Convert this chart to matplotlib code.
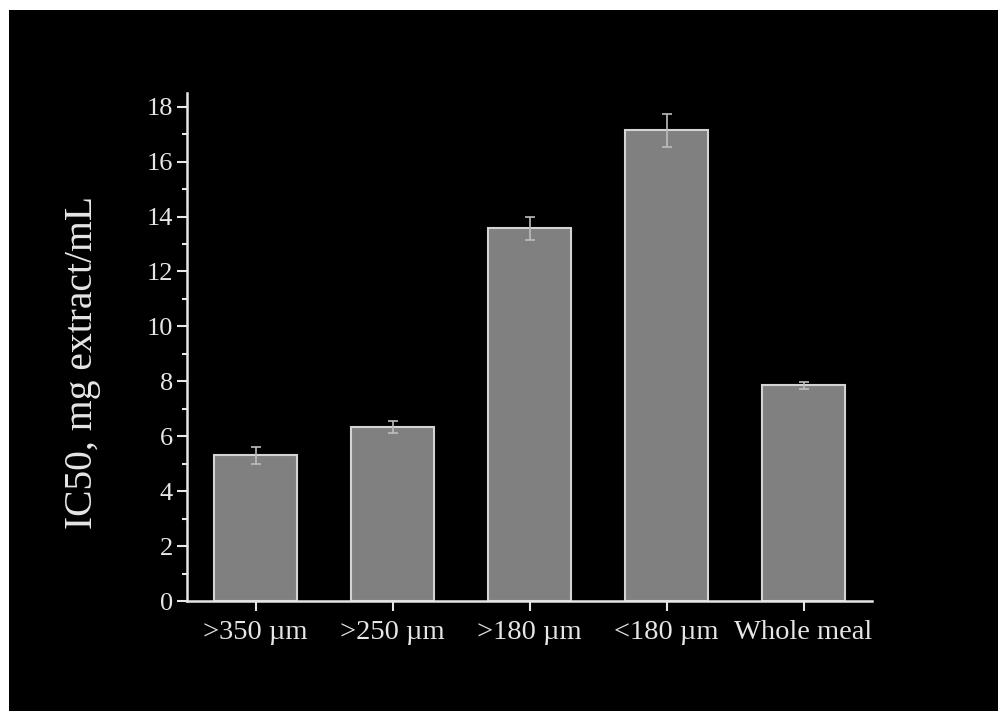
import matplotlib
matplotlib.use("Agg")
import matplotlib.pyplot as plt
from matplotlib.patches import Rectangle
from matplotlib.ticker import MultipleLocator

# particle size fractions and IC50 values
categories = [">350 \u00b5m", ">250 \u00b5m", ">180 \u00b5m", "<180 \u00b5m", "Whole meal"]
ic50 = [5.30, 6.33, 13.57, 17.15, 7.85]
ic50_err = [0.30, 0.23, 0.43, 0.60, 0.13]

plt.rcParams["font.family"] = ["Liberation Serif", "DejaVu Serif"]

fg = "#e6e6e6"

fig = plt.figure(figsize=(9.98, 7.11), dpi=100, facecolor="white")
# black panel, with a thin white strip left and top like the screenshot
fig.patches.append(Rectangle((9 / 998, 0), 1, 1 - 10 / 711, transform=fig.transFigure,
                             facecolor="black", edgecolor="none", zorder=-10))

ax = fig.add_axes([187 / 998, 1 - 601 / 711, (872 - 187) / 998, (601 - 93) / 711])
ax.set_facecolor("black")

x = list(range(len(categories)))
ax.bar(x, ic50, width=0.6, color="#808080", edgecolor="#d4d4d4", linewidth=1.5, zorder=2)
ax.errorbar(x, ic50, yerr=ic50_err, fmt="none", ecolor="#bdbdbd", elinewidth=1.2,
            capsize=3.8, capthick=1.2, zorder=3)

ax.set_xlim(-0.5, 4.5)
ax.set_ylim(0, 18.5)
ax.set_xticks(x)
ax.set_xticklabels(categories)
ax.yaxis.set_major_locator(MultipleLocator(2))
ax.yaxis.set_minor_locator(MultipleLocator(1))

for side in ["top", "right"]:
    ax.spines[side].set_visible(False)
for side in ["left", "bottom"]:
    ax.spines[side].set_color(fg)
    ax.spines[side].set_linewidth(1.8)

ax.tick_params(axis="y", which="major", direction="out", length=7, width=1.5,
               colors=fg, labelsize=19, pad=3)
ax.tick_params(axis="x", which="major", direction="out", length=7.5, width=1.5,
               colors=fg, labelsize=20.5, pad=6)
ax.tick_params(axis="y", which="minor", direction="out", length=3.5, width=1.5, colors=fg)

ax.set_ylabel("IC50, mg extract/mL", fontsize=28.5, color=fg)
ax.yaxis.set_label_coords(-0.125, 0.47)

fig.savefig("out.png", dpi=100, facecolor=fig.get_facecolor())
